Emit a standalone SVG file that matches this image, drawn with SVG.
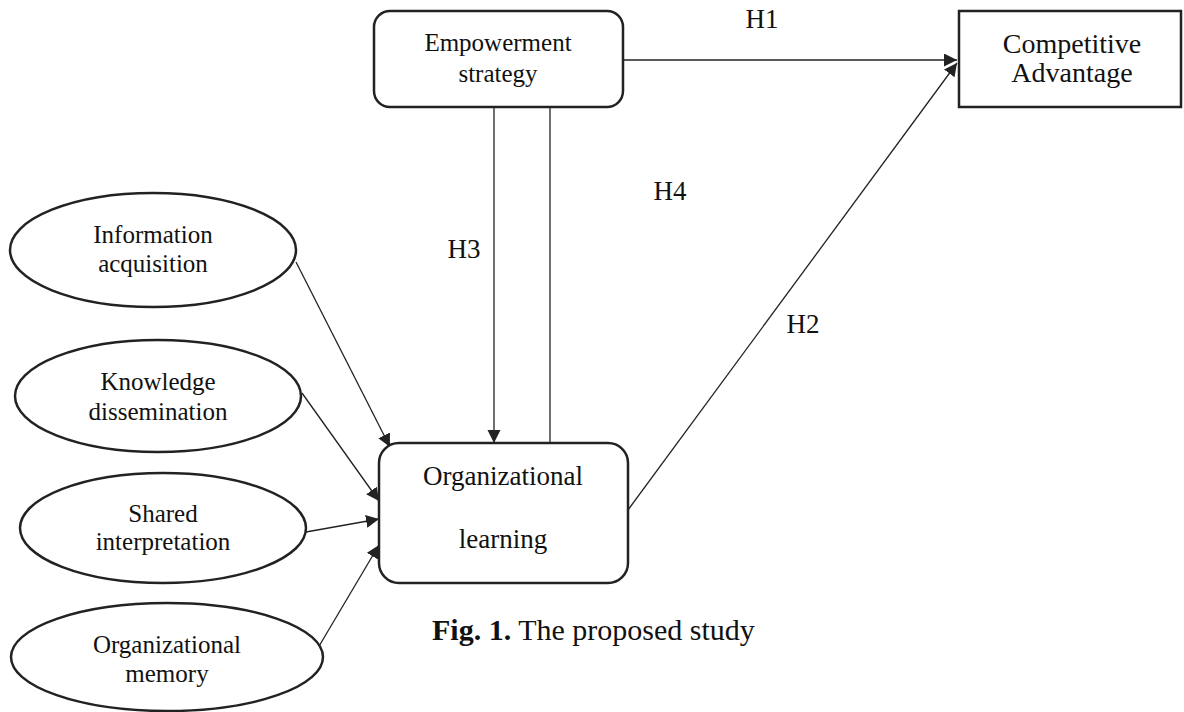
<svg xmlns="http://www.w3.org/2000/svg" width="1184" height="712" viewBox="0 0 1184 712">
<style>
.box{fill:#fff;stroke:#222;stroke-width:2.5}
.ell{fill:#fff;stroke:#222;stroke-width:2.5}
.t{font-family:"Liberation Serif","Times New Roman",serif;fill:#111;text-anchor:middle}
.c{stroke:#222;stroke-width:1.3;fill:none}
.ca{stroke:#222;stroke-width:1.3;fill:none;marker-end:url(#ah)}
</style>
<defs>
<marker id="ah" markerUnits="userSpaceOnUse" markerWidth="14" markerHeight="14" refX="13" refY="6.5" orient="auto">
<path d="M0,0 L13,6.5 L0,13 z" fill="#222"/>
</marker>
</defs>
<rect width="1184" height="712" fill="#fff"/>
<g id="connectors">
<line class="ca" x1="623" y1="60" x2="957" y2="60"/>
<line class="ca" x1="628" y1="510" x2="957" y2="63"/>
<line class="ca" x1="494" y1="107" x2="494" y2="443"/>
<line class="c" x1="550" y1="107" x2="550" y2="443" stroke-width="2.2"/>
<line class="ca" x1="296" y1="262" x2="390" y2="447"/>
<line class="ca" x1="302" y1="393" x2="379" y2="501"/>
<line class="ca" x1="306" y1="532" x2="379" y2="519"/>
<line class="ca" x1="312" y1="658" x2="379" y2="545"/>
</g>
<g id="empowerment">
<rect class="box" x="374" y="11" width="249" height="96" rx="16"/>
<text class="t" font-size="25" x="498" y="51">Empowerment</text>
<text class="t" font-size="25" x="498" y="82">strategy</text>
</g>
<g id="competitive">
<rect class="box" x="959" y="11" width="222" height="96"/>
<text class="t" font-size="28" x="1072" y="53">Competitive</text>
<text class="t" font-size="28" x="1072" y="82">Advantage</text>
</g>
<g id="orglearning">
<rect class="box" x="379" y="443" width="249" height="140" rx="20"/>
<text class="t" font-size="27" x="503" y="485">Organizational</text>
<text class="t" font-size="27" x="503" y="548">learning</text>
</g>
<g id="info">
<ellipse class="ell" cx="153" cy="250" rx="143" ry="57"/>
<text class="t" font-size="25" x="153" y="243">Information</text>
<text class="t" font-size="25" x="153" y="272">acquisition</text>
</g>
<g id="knowledge">
<ellipse class="ell" cx="158" cy="396" rx="143" ry="56"/>
<text class="t" font-size="25" x="158" y="390">Knowledge</text>
<text class="t" font-size="25" x="158" y="420">dissemination</text>
</g>
<g id="shared">
<ellipse class="ell" cx="163" cy="528" rx="143" ry="55"/>
<text class="t" font-size="25" x="163" y="522">Shared</text>
<text class="t" font-size="25" x="163" y="550">interpretation</text>
</g>
<g id="memory">
<ellipse class="ell" cx="167" cy="657" rx="156" ry="54"/>
<text class="t" font-size="25" x="167" y="653">Organizational</text>
<text class="t" font-size="25" x="167" y="682">memory</text>
</g>
<g id="labels">
<text class="t" font-size="27" x="762" y="28">H1</text>
<text class="t" font-size="27" x="803" y="333">H2</text>
<text class="t" font-size="27" x="464" y="258">H3</text>
<text class="t" font-size="27" x="670" y="200">H4</text>
</g>
<g id="caption">
<text font-family="Liberation Serif,'Times New Roman',serif" font-size="30" x="432" y="640" fill="#111"><tspan font-weight="bold">Fig. 1.</tspan> The proposed study</text>
</g>
</svg>
